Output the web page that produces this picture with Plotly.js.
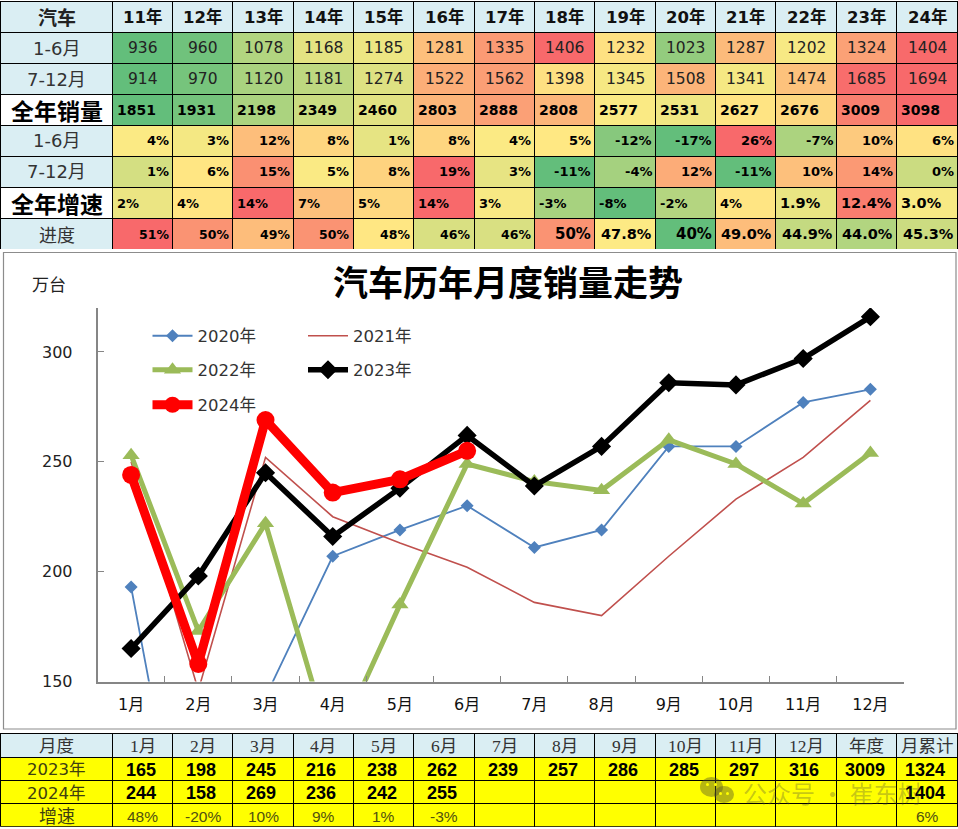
<!DOCTYPE html>
<html>
<head>
<meta charset="utf-8">
<script src="https://cdn.plot.ly/plotly-3.0.1.min.js"></script>
<style>
  html, body { margin: 0; padding: 0; background: #fff; overflow: hidden; }
</style>
</head>
<body>
<div id="chart" style="width:958px;height:829px"></div>
<script>
// 上表
const YEAR_HEADS = ['11年', '12年', '13年', '14年', '15年', '16年', '17年', '18年', '19年', '20年', '21年', '22年', '23年', '24年'];
const H1_SALES = [936, 960, 1078, 1168, 1185, 1281, 1335, 1406, 1232, 1023, 1287, 1202, 1324, 1404];
const H2_SALES = [914, 970, 1120, 1181, 1274, 1522, 1562, 1398, 1345, 1508, 1341, 1474, 1685, 1694];
const FULL_SALES = [1851, 1931, 2198, 2349, 2460, 2803, 2888, 2808, 2577, 2531, 2627, 2676, 3009, 3098];
const H1_GROWTH = ['4%', '3%', '12%', '8%', '1%', '8%', '4%', '5%', '-12%', '-17%', '26%', '-7%', '10%', '6%'];
const H2_GROWTH = ['1%', '6%', '15%', '5%', '8%', '19%', '3%', '-11%', '-4%', '12%', '-11%', '10%', '14%', '0%'];
const FULL_GROWTH = ['2%', '4%', '14%', '7%', '5%', '14%', '3%', '-3%', '-8%', '-2%', '4%', '1.9%', '12.4%', '3.0%'];
const PROGRESS = ['51%', '50%', '49%', '50%', '48%', '46%', '46%', '50%', '47.8%', '40%', '49.0%', '44.9%', '44.0%', '45.3%'];
const TOP_LABELS = ['1-6月', '7-12月', '全年销量', '1-6月', '7-12月', '全年增速', '进度'];

// 折线
const MONTHS = ['1月', '2月', '3月', '4月', '5月', '6月', '7月', '8月', '9月', '10月', '11月', '12月'];
const Y2020 = [193, 31, 143, 207, 219, 230, 211, 219, 257, 257, 277, 283];
const Y2021 = [250, 146, 252, 225, 213, 202, 186, 180, 207, 233, 252, 278];
const Y2022 = [253, 173, 222, 118, 185, 249, 241, 237, 260, 249, 231, 254];
const Y2023 = [165, 198, 245, 216, 238, 262, 239, 257, 286, 285, 297, 316];
const Y2024 = [244, 158, 269, 236, 242, 255];

// 下表
const BOTTOM_HEADS = ['月度', ...MONTHS, '年度', '月累计'];
const BOTTOM_2023 = ['165', '198', '245', '216', '238', '262', '239', '257', '286', '285', '297', '316', '3009', '1324'];
const BOTTOM_2024 = ['244', '158', '269', '236', '242', '255', '', '', '', '', '', '', '', '1404'];
const BOTTOM_GROWTH = ['48%', '-20%', '10%', '9%', '1%', '-3%', '', '', '', '', '', '', '', '6%'];
const BOTTOM_LABELS = ['2023年', '2024年', '增速'];

// 版面 (px)
const W = 958, H = 829;
const COL_EDGES = [0.5, 112.7, 172.5, 232.7, 293.5, 353.3, 413.7, 474.3, 534.7, 594.7, 655.7, 715.7, 775.7, 836.7, 896.7, 957.5];
const TOP_Y = [1, 249], BOTTOM_Y = [733.7, 827];
const SANS = 'DejaVu Sans, Noto Sans CJK SC, sans-serif';
const CJK = 'Noto Sans CJK SC, sans-serif';
const SERIF = 'Liberation Serif, Noto Sans CJK SC, serif';
const ARIAL = 'Liberation Sans, sans-serif';
const px = v => v / W, py = v => 1 - v / H;
const colWidths = COL_EDGES.slice(1).map((e, i) => e - COL_EDGES[i]);

// Excel 三色刻度 (每行单独算)
function lerp(a, b, t) { return a.map((c, i) => Math.round(c + (b[i] - c) * t)); }
function rowColors(row) {
  const vals = row.map(v => parseFloat(v));
  const s = [...vals].sort((a, b) => a - b);
  const mid = (s[6] + s[7]) / 2;
  return vals.map(v => {
    const c = v <= mid
      ? lerp([99, 190, 123], [255, 235, 132], (v - s[0]) / (mid - s[0]))
      : lerp([255, 235, 132], [248, 105, 107], (v - mid) / (s[13] - mid));
    return `rgb(${c.join(',')})`;
  });
}

const topRows = [H1_SALES, H2_SALES, FULL_SALES, H1_GROWTH, H2_GROWTH, FULL_GROWTH, PROGRESS];
const topFill = topRows.map(rowColors);
const blankCols = (nCols, nRows) => Array.from({ length: nCols }, () => Array(nRows).fill(''));

// 表格只画底色和边框, 文字太高会把行撑开, 文字用 annotation
const topTable = {
  type: 'table',
  domain: { x: [px(COL_EDGES[0]), px(COL_EDGES[15])], y: [py(TOP_Y[1]), py(TOP_Y[0])] },
  columnwidth: colWidths,
  header: {
    values: Array(15).fill(''),
    height: 31,
    fill: { color: '#DAEEF3' }, line: { color: '#000', width: 1 },
    font: { size: 1 },
  },
  cells: {
    values: blankCols(15, 7),
    height: 31,
    fill: { color: [TOP_LABELS.map(l => l.startsWith('全年') ? '#fff' : '#DAEEF3'), ...YEAR_HEADS.map((_, c) => topFill.map(r => r[c]))] },
    line: { color: '#000', width: 1 },
    font: { size: 1 },
  },
};

const bottomTable = {
  type: 'table',
  domain: { x: [px(COL_EDGES[0]), px(COL_EDGES[15])], y: [py(BOTTOM_Y[1]), py(BOTTOM_Y[0])] },
  columnwidth: colWidths,
  header: {
    values: Array(15).fill(''),
    height: 23.3,
    fill: { color: '#DAEEF3' }, line: { color: '#000', width: 1 },
    font: { size: 1 },
  },
  cells: {
    values: blankCols(15, 3),
    height: 23.3,
    fill: { color: '#FFFF00' }, line: { color: '#000', width: 1 },
    font: { size: 1 },
  },
};

const common = { x: MONTHS, xaxis: 'x', yaxis: 'y', type: 'scatter', hoverinfo: 'x+y+name', showlegend: true };
const lines = [
  { ...common, y: Y2020, name: '2020年', legend: 'legend', mode: 'lines+markers',
    line: { color: '#4F81BD', width: 1.8 }, marker: { symbol: 'diamond', size: 10, color: '#4F81BD' } },
  { ...common, y: Y2021, name: '2021年', legend: 'legend2', mode: 'lines',
    line: { color: '#C0504D', width: 1.6 } },
  { ...common, y: Y2022, name: '2022年', legend: 'legend3', mode: 'lines+markers',
    line: { color: '#9BBB59', width: 5 }, marker: { symbol: 'triangle-up', size: 15, color: '#9BBB59' } },
  { ...common, y: Y2023, name: '2023年', legend: 'legend4', mode: 'lines+markers',
    line: { color: '#000', width: 5.5 }, marker: { symbol: 'diamond', size: 12, color: '#000', line: { color: '#000', width: 2.5 } } },
  { ...common, y: Y2024, name: '2024年', legend: 'legend5', mode: 'lines+markers',
    line: { color: '#FF0000', width: 9 }, marker: { symbol: 'circle', size: 18, color: '#FF0000' } },
];

function legendAt(x, y) {
  return {
    x: px(x), y: py(y), xanchor: 'left', yanchor: 'middle',
    bgcolor: 'rgba(0,0,0,0)', itemwidth: 40, itemclick: false, itemdoubleclick: false,
    font: { family: SANS, size: 16.5, color: '#333' },
  };
}

// 文字
const annotations = [];
function note(text, x, y, anchor, family, size, color, bold) {
  annotations.push({
    text: bold ? `<b>${text}</b>` : String(text), showarrow: false, xref: 'paper', yref: 'paper',
    x: px(x), y: py(y), xanchor: anchor, yanchor: 'middle', borderpad: 0,
    font: { family, size, color },
  });
}
const topRowY = r => TOP_Y[0] + (TOP_Y[1] - TOP_Y[0]) * (r + 0.5) / 8 + 0.5;
const bottomRowY = r => BOTTOM_Y[0] + (BOTTOM_Y[1] - BOTTOM_Y[0]) * (r + 0.5) / 4 + 1;
const colMid = c => (COL_EDGES[c] + COL_EDGES[c + 1]) / 2;
const PROGRESS_SIZES = [12.5, 12.5, 12.5, 12.5, 12.5, 12.5, 12.5, 15, 14.5, 15, 14.5, 14.5, 14.5, 14.5];

note('汽车', colMid(0), topRowY(0), 'center', CJK, 19, '#222', true);
TOP_LABELS.forEach((l, r) => {
  const big = l.startsWith('全年');
  const fam = big || l === '进度' ? CJK : SANS;
  note(l, colMid(0), topRowY(r + 1), 'center', fam, big ? 23 : l === '进度' ? 18 : 18, big ? '#000' : '#333', big);
});
YEAR_HEADS.forEach((y, i) => {
  const c = i + 1;
  const left = COL_EDGES[c] + 3.5, right = COL_EDGES[c + 1] - 3;
  note(y, colMid(c), topRowY(0), 'center', SANS, 16.5, '#111', true);
  note(H1_SALES[i], colMid(c), topRowY(1), 'center', SANS, 15.5, '#222');
  note(H2_SALES[i], colMid(c), topRowY(2), 'center', SANS, 15.5, '#222');
  note(FULL_SALES[i], left, topRowY(3), 'left', SANS, 14, '#000', true);
  note(H1_GROWTH[i], right, topRowY(4), 'right', SANS, 13, '#000', true);
  note(H2_GROWTH[i], right, topRowY(5), 'right', SANS, 13, '#000', true);
  note(FULL_GROWTH[i], left, topRowY(6), 'left', SANS, FULL_GROWTH[i].includes('.') ? 14.5 : 13, '#000', true);
  note(PROGRESS[i], right, topRowY(7), 'right', SANS, PROGRESS_SIZES[i], '#000', true);
});

BOTTOM_HEADS.forEach((h, c) => note(h, colMid(c), bottomRowY(0), 'center', SERIF, 17.5, '#333'));
BOTTOM_LABELS.forEach((l, r) => note(l, colMid(0), bottomRowY(r + 1), 'center', SANS, l === '增速' ? 18 : 16.5, '#404010'));
BOTTOM_2023.forEach((_, i) => {
  const c = i + 1, x = colMid(c) - 2;
  if (BOTTOM_2023[i]) note(BOTTOM_2023[i], x, bottomRowY(1), 'center', ARIAL, 18, '#000', true);
  if (BOTTOM_2024[i]) note(BOTTOM_2024[i], x, bottomRowY(2), 'center', ARIAL, 18, '#000', true);
  if (BOTTOM_GROWTH[i]) note(BOTTOM_GROWTH[i], x + 2, bottomRowY(3), 'center', ARIAL, 15.5, '#505010');
});

note('万台', 49, 283, 'center', CJK, 17, '#222');
note('公众号 · 崔东树', 742, 792, 'left', CJK, 24, 'rgba(80,80,60,0.32)');

const wmFill = 'rgba(80,80,40,0.42)';
const circle = (x0, y0, x1, y1, fill) => ({
  type: 'circle', xref: 'paper', yref: 'paper', layer: 'above',
  x0: px(x0), x1: px(x1), y0: py(y0), y1: py(y1), fillcolor: fill, line: { width: 0 },
});

const layout = {
  width: W, height: H, autosize: false,
  margin: { l: 0, r: 0, t: 0, b: 0 },
  showlegend: true,
  paper_bgcolor: '#fff', plot_bgcolor: 'rgba(0,0,0,0)',
  font: { family: SANS, color: '#222' },
  title: {
    text: '<b>汽车历年月度销量走势</b>', x: 508 / W, y: py(284), xanchor: 'center', yanchor: 'middle',
    font: { family: CJK, size: 35, color: '#000' },
  },
  xaxis: {
    domain: [px(97.5), px(904)], type: 'category', range: [-0.5, 11.5],
    showline: true, linecolor: '#868686', linewidth: 1.5, showgrid: false, zeroline: false,
    ticks: 'inside', tickson: 'boundaries', ticklen: 6, tickcolor: '#868686',
    ticklabelstandoff: 8, tickfont: { family: SANS, size: 16, color: '#111' },
  },
  yaxis: {
    domain: [py(681.5), py(308)], range: [150, 320], tickvals: [150, 200, 250, 300],
    showline: true, linecolor: '#868686', linewidth: 1.5, showgrid: false, zeroline: false,
    ticks: 'inside', ticklen: 7, tickcolor: '#868686',
    ticklabelstandoff: 20, tickfont: { family: SANS, size: 16, color: '#222' },
  },
  legend: legendAt(147.5, 336),
  legend2: legendAt(303, 336),
  legend3: legendAt(147.5, 370),
  legend4: legendAt(303, 370),
  legend5: legendAt(147.5, 405),
  shapes: [
    { type: 'rect', xref: 'paper', yref: 'paper', layer: 'below',
      x0: px(3.5), x1: px(956), y0: py(729), y1: py(252.5), line: { color: '#8c8c8c', width: 1.2 } },
    circle(700, 777, 723, 797, wmFill),
    circle(714, 786, 734, 803, wmFill),
    circle(706, 783, 709, 786, '#FFFF00'),
    circle(714, 783, 717, 786, '#FFFF00'),
    circle(719, 792, 722, 795, '#FFFF00'),
    circle(726, 792, 729, 795, '#FFFF00'),
  ],
  annotations,
};

Plotly.newPlot('chart', [topTable, bottomTable, ...lines], layout, { displayModeBar: false, responsive: false });
</script>
</body>
</html>
